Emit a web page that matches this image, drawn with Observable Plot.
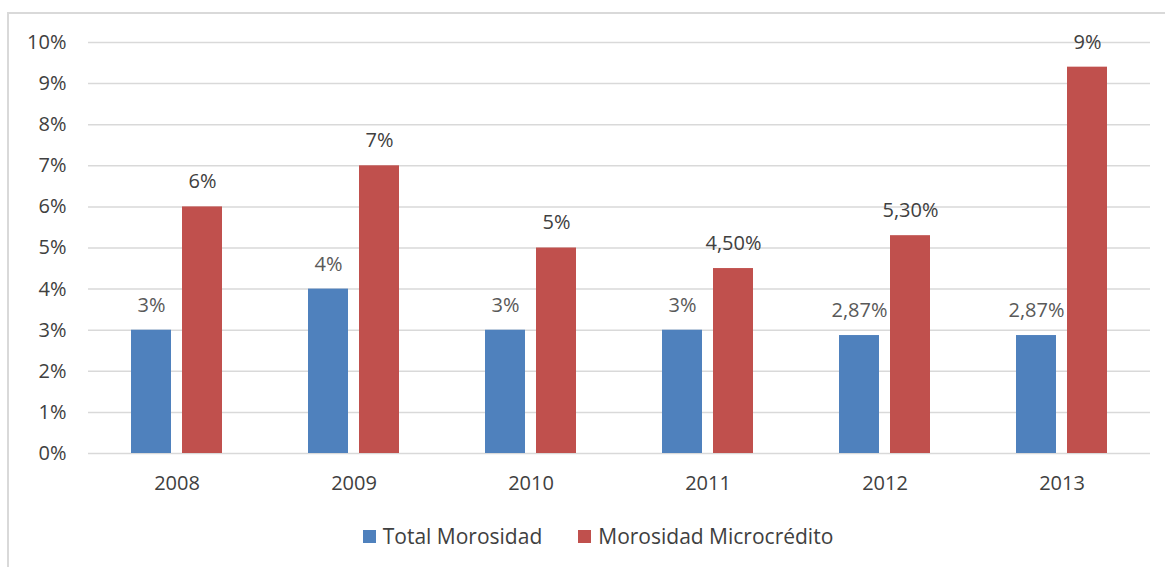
<!DOCTYPE html>
<html>
<head>
<meta charset="utf-8">
<script src="https://cdn.jsdelivr.net/npm/d3@7"></script>
<script src="https://cdn.jsdelivr.net/npm/@observablehq/plot@0.6"></script>
<style>
  html, body { margin: 0; padding: 0; background: #fff; width: 1165px; height: 567px; overflow: hidden; }
  #frame { position: absolute; left: 7px; top: 12px; width: 1200px; height: 600px; border: 2px solid #d9d9d9; box-sizing: border-box; pointer-events: none; z-index: 5; }
  #chart { position: absolute; left: 0; top: 0; }
  #legend { position: absolute; left: 0; top: 522px; width: 1196px; display: flex; justify-content: center; font-family: "Open Sans", sans-serif; font-size: 21px; color: #404040; }
  .item { display: flex; align-items: center; margin: 0 18px; }
  .sw { width: 13px; height: 13px; margin-right: 7px; }
</style>
</head>
<body>
<div id="chart"></div>
<div id="legend"></div>
<div id="frame"></div>
<script>
const years = ["2008", "2009", "2010", "2011", "2012", "2013"];
const seriesNames = ["Total Morosidad", "Morosidad Microcrédito"];
const totalMorosidad = [0.03, 0.04, 0.03, 0.03, 0.0287, 0.0287];
const morosidadMicro = [0.06, 0.07, 0.05, 0.045, 0.053, 0.094];
const totalLabels = ["3%", "4%", "3%", "3%", "2,87%", "2,87%"];
const microLabels = ["6%", "7%", "5%", "4,50%", "5,30%", "9%"];
const yTicks = [0, 0.01, 0.02, 0.03, 0.04, 0.05, 0.06, 0.07, 0.08, 0.09, 0.10];
const colors = ["#4f81bd", "#c0504d"];
const labelColors = ["#595959", "#404040"];

const data = [];
years.forEach((yr, i) => {
  data.push({year: yr, series: seriesNames[0], value: totalMorosidad[i], label: totalLabels[i]});
  data.push({year: yr, series: seriesNames[1], value: morosidadMicro[i], label: microLabels[i]});
});

const chart = Plot.plot({
  width: 1165,
  height: 505,
  marginLeft: 88,
  marginRight: 15,
  marginTop: 42,
  marginBottom: 52,
  style: {fontFamily: "'Open Sans', sans-serif", fontSize: "20px", color: "#404040", background: "transparent"},
  fx: {domain: years, paddingInner: 0, paddingOuter: 0, label: null},
  x: {domain: seriesNames, paddingInner: 0.216, paddingOuter: 0.843, axis: null},
  y: {domain: [0, 0.10], label: null},
  color: {domain: seriesNames, range: colors},
  marks: [
    Plot.gridY(yTicks, {stroke: "#d9d9d9", strokeOpacity: 1, strokeWidth: 1.5}),
    Plot.axisY(yTicks, {tickSize: 0, tickPadding: 22, tickFormat: d3.format(".0%"), label: null, fill: "#404040", fontSize: 20}),
    Plot.axisFx({anchor: "bottom", tickSize: 0, tickPadding: 22, label: null, fill: "#404040", fontSize: 20}),
    Plot.barY(data, {fx: "year", x: "series", y: "value", fill: "series"}),
    Plot.text(data, {fx: "year", x: "series", y: "value", text: "label", dy: -25, fill: d => labelColors[seriesNames.indexOf(d.series)], fontSize: 20})
  ]
});
document.getElementById("chart").appendChild(chart);

const legend = document.getElementById("legend");
seriesNames.forEach((s, i) => {
  const it = document.createElement("div");
  it.className = "item";
  const sw = document.createElement("div");
  sw.className = "sw";
  sw.style.background = colors[i];
  const t = document.createElement("span");
  t.textContent = s;
  it.appendChild(sw);
  it.appendChild(t);
  legend.appendChild(it);
});
</script>
</body>
</html>
